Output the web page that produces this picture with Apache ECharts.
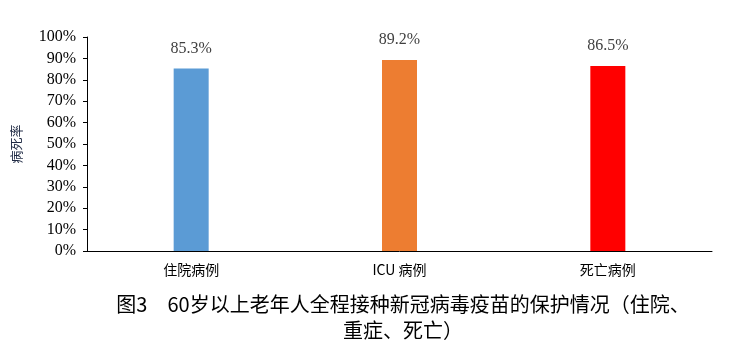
<!DOCTYPE html>
<html><head><meta charset="utf-8">
<script src="https://cdn.jsdelivr.net/npm/echarts@6/dist/echarts.min.js"></script>
<style>html,body{margin:0;padding:0;background:#fff}#c{width:749px;height:361px}</style>
</head><body><div id="c"></div>
<script>
var categories = ['住院病例', 'ICU 病例', '死亡病例'];
var values = [85.3, 89.2, 86.5];
var colors = ['#5b9bd5', '#ed7d31', '#ff0000'];
var yTicks = [0, 10, 20, 30, 40, 50, 60, 70, 80, 90, 100];

var chart = echarts.init(document.getElementById('c'));
chart.setOption({
  animation: false,
  title: {
    text: '图3　60岁以上老年人全程接种新冠病毒疫苗的保护情况（住院、\n重症、死亡）',
    left: 398, top: 286, textAlign: 'center',
    textStyle: { fontFamily: 'Noto Sans CJK SC', fontSize: 20, fontWeight: 'normal', color: '#000', lineHeight: 26 }
  },
  grid: { left: 87, right: 37, top: 37, bottom: 110 },
  xAxis: {
    type: 'category', data: categories,
    axisLine: { lineStyle: { color: '#000', width: 1 } },
    axisTick: { show: false },
    axisLabel: { margin: 12, fontFamily: 'Noto Sans CJK SC', fontSize: 14, color: '#000' }
  },
  yAxis: {
    type: 'value', min: 0, max: 100, interval: 10,
    name: '病死率', nameLocation: 'middle', nameRotate: 90, nameGap: 64,
    nameTextStyle: { fontFamily: 'Noto Sans CJK SC', fontSize: 13, color: '#1f2a44' },
    axisLine: { show: true, lineStyle: { color: '#000', width: 1 } },
    axisTick: { show: true, length: 4, lineStyle: { color: '#000' } },
    splitLine: { show: false },
    axisLabel: { margin: 11, fontFamily: 'Liberation Serif', fontSize: 16, color: '#000', formatter: function(v){ return yTicks.indexOf(v) >= 0 ? v + '%' : ''; } }
  },
  series: [{
    type: 'bar', barWidth: 35,
    data: values.map(function(v, i){ return { value: v, itemStyle: { color: colors[i] } }; }),
    label: { show: true, position: 'top', distance: 12, formatter: function(p){ return p.value.toFixed(1) + '%'; },
      fontFamily: 'Liberation Serif', fontSize: 16, color: '#404040' }
  }]
});
</script></body></html>
